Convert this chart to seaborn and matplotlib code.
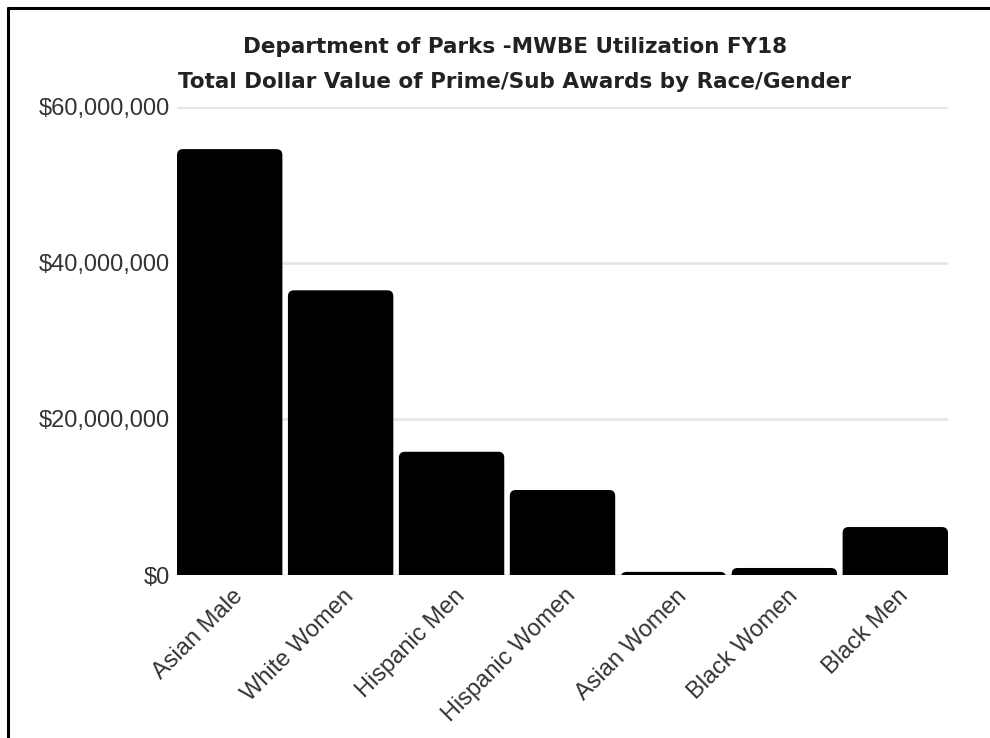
import matplotlib
matplotlib.use("Agg")
import matplotlib.pyplot as plt
import seaborn as sns
import pandas as pd
from matplotlib.patches import FancyBboxPatch
from matplotlib.lines import Line2D
import matplotlib.transforms as mtransforms

categories = ["Asian Male", "White Women", "Hispanic Men", "Hispanic Women",
              "Asian Women", "Black Women", "Black Men"]
values = [54600000, 36500000, 15800000, 10900000, 400000, 900000, 6150000]
y_ticks = [0, 20000000, 40000000, 60000000]
y_tick_labels = ["$0", "$20,000,000", "$40,000,000", "$60,000,000"]
title_lines = ["Department of Parks -MWBE Utilization FY18",
               "Total Dollar Value of Prime/Sub Awards by Race/Gender"]

df = pd.DataFrame({"category": categories, "value": values})

sns.set_theme(style="white")
plt.rcParams["font.family"] = ["Liberation Sans", "DejaVu Sans"]

fig = plt.figure(figsize=(9.9, 7.38), dpi=100)
ax = fig.add_axes([177/990, 1 - 575/738, 771/990, (575 - 107)/738])

sns.barplot(data=df, x="category", y="value", color="black", width=0.95,
            saturation=1, ax=ax, order=categories)

ax.set_ylim(0, 60000000)
ax.set_xlim(-0.475, len(categories) - 0.525)

# replace bars by rounded-corner versions (derived from seaborn's bars)
bars = list(ax.patches)
fig.canvas.draw()
px_per_x = ax.transData.transform((1, 0))[0] - ax.transData.transform((0, 0))[0]
px_per_y = ax.transData.transform((0, 1e6))[1] - ax.transData.transform((0, 0))[1]
r_px = 6.0
rx = r_px / px_per_x
ry = r_px / px_per_y * 1e6
aspect = ry / rx
for b in bars:
    x, w, h = b.get_x(), b.get_width(), b.get_height()
    ext = 2 * ry
    fb = FancyBboxPatch((x, -ext), w, h + ext,
                        boxstyle=f"round,pad=0,rounding_size={rx}",
                        mutation_aspect=aspect,
                        facecolor="black", edgecolor="none", clip_on=True)
    fb.set_clip_path(ax.patch)
    b.remove()
    ax.add_patch(fb)

ax.set_yticks(y_ticks)
ax.set_yticklabels(y_tick_labels, fontsize=17, color="#333333")
ax.yaxis.grid(True, color="#e6e6e6", linewidth=2)
ax.set_axisbelow(True)
ax.xaxis.grid(False)
for s in ax.spines.values():
    s.set_visible(False)
ax.tick_params(axis="both", length=0)
ax.tick_params(axis="y", pad=5)
ax.set_xlabel("")
ax.set_ylabel("")
ax.set_xticks(range(len(categories)))
ax.set_xticklabels(categories, rotation=45, ha="right", va="top",
                   rotation_mode="anchor", fontsize=17, color="#333333")
offset = mtransforms.ScaledTranslation(2/100, -5/100, fig.dpi_scale_trans)
for lbl in ax.get_xticklabels():
    lbl.set_transform(lbl.get_transform() + offset)

for i, line in enumerate(title_lines):
    fig.text(515/990, 1 - (47 + 35 * i)/738, line, ha="center", va="center",
             fontsize=15.5, fontweight="bold", color="#222222",
             family=["DejaVu Sans"])

# frame lines (left and top)
fig.add_artist(Line2D([7.5/990, 7.5/990], [0, 1 - 7.5/738], color="black",
                      linewidth=2.2, transform=fig.transFigure))
fig.add_artist(Line2D([7.5/990, 1], [1 - 7.5/738, 1 - 7.5/738], color="black",
                      linewidth=2.2, transform=fig.transFigure))

fig.savefig("out.png", dpi=100, facecolor="white")
